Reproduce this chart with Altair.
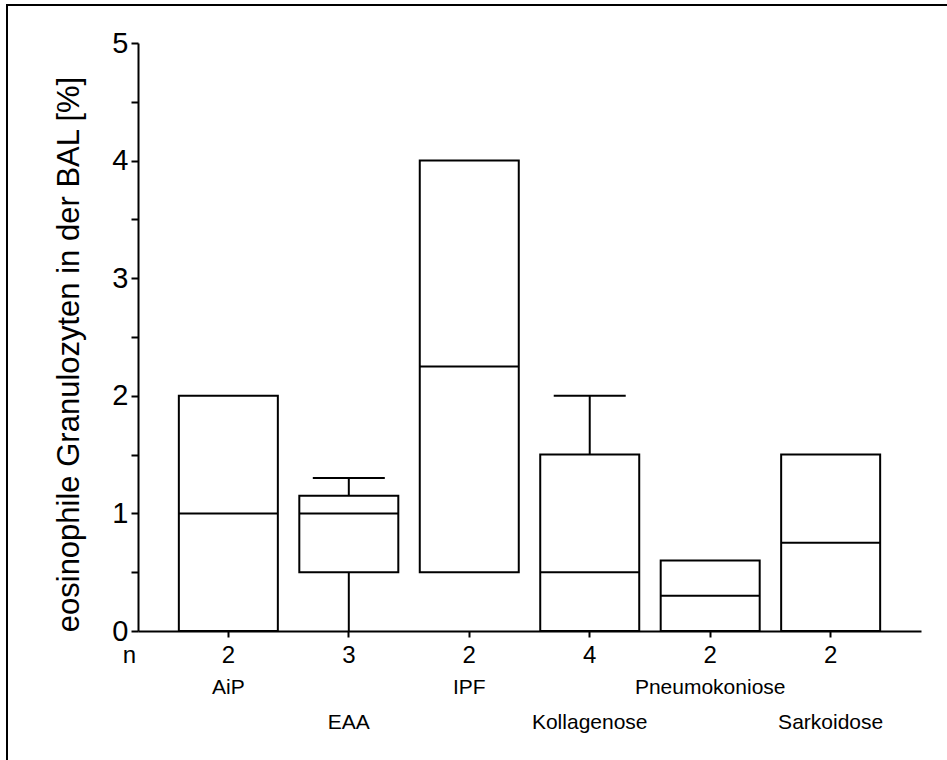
import json
import altair as alt
import pandas as pd

# Eosinophil share in BAL per diagnosis: n and five-number summary
categories = ["AiP", "EAA", "IPF", "Kollagenose", "Pneumokoniose", "Sarkoidose"]
n_values = [2, 3, 2, 4, 2, 2]
mins = [0.0, 0.0, 0.5, 0.0, 0.0, 0.0]
q1s = [0.0, 0.5, 0.5, 0.0, 0.0, 0.0]
medians = [1.0, 1.0, 2.25, 0.5, 0.3, 0.75]
q3s = [2.0, 1.15, 4.0, 1.5, 0.6, 1.5]
maxs = [2.0, 1.3, 4.0, 2.0, 0.6, 1.5]

df = pd.DataFrame({
    "cat": categories, "n": n_values, "min": mins, "q1": q1s,
    "median": medians, "q3": q3s, "max": maxs,
})

FONT = "Liberation Sans"
W, H = 783, 588
BOX = 99
CAP = 72

n_lookup = json.dumps({c: str(n) for c, n in zip(categories, n_values)})
cat_list = json.dumps(categories)

xscale = alt.Scale(domain=categories, paddingInner=0, paddingOuter=0.25)
yscale = alt.Scale(domain=[0, 5], nice=False, zero=True)

y_axis_spec = alt.Axis(
    title="eosinophile Granulozyten in der BAL [%]",
    titleFont=FONT, titleFontSize=31, titleFontWeight="normal",
    titleColor="black", titleAngle=270, titleAlign="center",
    titleBaseline="alphabetic", titleX=-60, titleY=311,
    values=[i * 0.5 for i in range(11)],
    labelExpr="datum.value % 1 == 0 ? format(datum.value, 'd') : ''",
    labelFont=FONT, labelFontSize=29, labelColor="black", labelPadding=3,
    tickSize=7, tickWidth=2, tickColor="black",
    domainWidth=2, domainColor="black", grid=False,
)


def y_enc(field):
    return alt.Y(field, scale=yscale, axis=y_axis_spec)


x_n = alt.X(
    "cat:N", scale=xscale, sort=categories,
    axis=alt.Axis(
        title="n", titleFont=FONT, titleFontSize=24, titleFontWeight="normal",
        titleAnchor="start", titleAlign="center", titleBaseline="alphabetic",
        titleX=-9, titleY=31, titleColor="black",
        labelExpr=f"{n_lookup}[datum.value]", labelAngle=0,
        labelFont=FONT, labelFontSize=24, labelColor="black",
        labelBaseline="alphabetic", labelPadding=25,
        tickSize=6, tickWidth=2, tickColor="black",
        domainWidth=2, domainColor="black", grid=False,
    ),
)

x_plain = alt.X("cat:N", scale=xscale, sort=categories, axis=None)

base = alt.Chart(df)

whiskers = base.mark_rule(color="black", strokeWidth=2).encode(
    x=x_plain, y=y_enc("min:Q"), y2="max:Q",
)

upper_caps = base.transform_filter("datum.max > datum.q3").mark_tick(
    color="black", thickness=2, size=CAP, opacity=1
).encode(x=x_plain, y=y_enc("max:Q"))

boxes = base.mark_bar(
    fill="white", stroke="black", strokeWidth=2, size=BOX
).encode(x=x_n, y=y_enc("q1:Q"), y2="q3:Q")

median_lines = base.mark_tick(
    color="black", thickness=2, size=BOX, opacity=1
).encode(x=x_plain, y=y_enc("median:Q"))

# Second bottom axis carrying the staggered diagnosis names
name_axis = base.mark_point(opacity=0).encode(
    x=alt.X(
        "cat:N", scale=xscale, sort=categories,
        axis=alt.Axis(
            orient="bottom", title=None, domain=False, ticks=False, tickSize=0,
            labelAngle=0, labelFont=FONT, labelFontSize=21, labelColor="black",
            labelBaseline="alphabetic", labelPadding=62, labelLineHeight=35.6,
            labelExpr=f"indexof({cat_list}, datum.value) % 2 == 0 ? datum.value : ['', datum.value]",
            grid=False,
        ),
    ),
    y=y_enc("median:Q"),
)

frame = alt.Chart(pd.DataFrame({"k": [0]})).mark_rect(
    fill=None, stroke="black", strokeWidth=2, clip=False
).encode(
    x=alt.value(-131), x2=alt.value(2000), y=alt.value(-38), y2=alt.value(2000)
)

chart = alt.layer(
    frame, whiskers, upper_caps, boxes, median_lines, name_axis
).resolve_axis(x="independent").properties(
    width=W, height=H,
    autosize=alt.AutoSizeParams(type="none"),
    padding={"left": 138, "top": 43, "right": 26, "bottom": 129},
    background="white",
).configure_view(stroke=None)

chart.save("out.html", embed_options={"renderer": "svg", "actions": False})
